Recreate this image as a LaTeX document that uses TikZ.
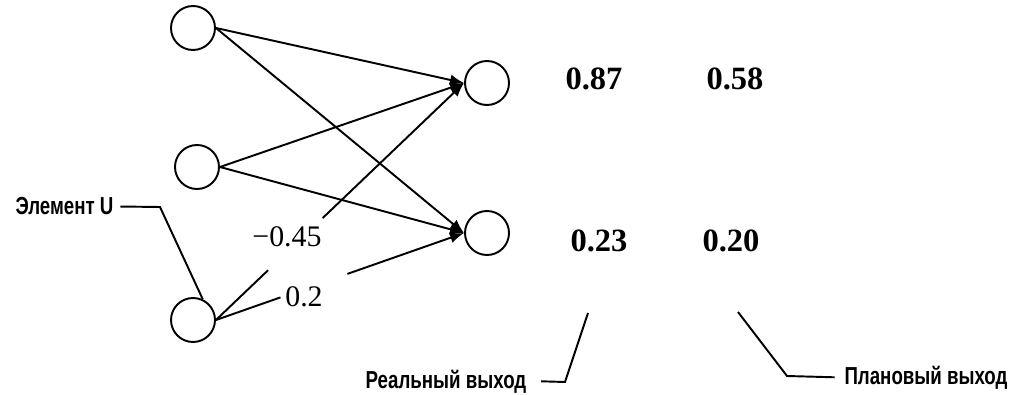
\documentclass[tikz,border=0pt]{standalone}
\usepackage{fontspec}
\setmainfont{Liberation Serif}
\newfontfamily\labfont[FakeStretch=0.76]{Liberation Sans}
\usetikzlibrary{arrows.meta}

\begin{document}
\begin{tikzpicture}[line width=1.1pt,>={Latex[length=2.8mm,width=2.2mm]},
  neuron/.style={circle,draw,minimum size=8.8mm,inner sep=0pt},
  numval/.style={anchor=base,font=\fontsize{18.5}{20}\selectfont\bfseries},
  weight/.style={anchor=base,font=\fontsize{17}{18}\selectfont},
  caption/.style={anchor=base,font=\labfont\bfseries\fontsize{14}{16}\selectfont}]
  \useasboundingbox (0,0) rectangle (20.18,7.88);
  % входной слой
  \node[neuron] (in1) at (3.86,7.32) {};
  \node[neuron] (in2) at (3.94,4.54) {};
  \node[neuron] (in3) at (3.86,1.48) {};
  % выходной слой
  \node[neuron] (out1) at (9.74,6.22) {};
  \node[neuron] (out2) at (9.74,3.22) {};
  % связи
  \draw[->] (in1.east)--(out1.west);
  \draw[->] (in1.east)--(out2.west);
  \draw[->] (in2.east)--(out1.west);
  \draw[->] (in2.east)--(out2.west);
  % связи от элемента U (с разрывом под веса)
  \path (in3.east)--(out1.west) coordinate[pos=0.21] (g1a) coordinate[pos=0.43] (g1b);
  \path (in3.east)--(out2.west) coordinate[pos=0.26] (g2a) coordinate[pos=0.53] (g2b);
  \draw (in3.east)--(g1a);
  \draw[->] (g1b)--(out1.west);
  \draw (in3.east)--(g2a);
  \draw[->] (g2b)--(out2.west);
  \node[weight] (w1) at (5.74,2.94) {−0.45};
  \node[weight] (w2) at (6.08,1.76) {0.2};
  % реальный и плановый выход
  \node[numval] (real1) at (11.88,6.08) {0.87};
  \node[numval] (plan1) at (14.70,6.08) {0.58};
  \node[numval] (real2) at (11.98,2.84) {0.23};
  \node[numval] (plan2) at (14.62,2.84) {0.20};
  % подписи
  \node[caption] (ulab) at (1.29,3.58) {Элемент U};
  \coordinate (ubend) at (3.20,3.74);
  \draw (ulab.east)--(ubend)--(in3.65);
  \node[caption] (reallab) at (8.92,0.12) {Реальный выход};
  \coordinate (rbend) at (11.30,0.24);
  \coordinate (rtop) at (11.76,1.62);
  \draw ([xshift=1.6mm]reallab.east)--(rbend)--(rtop);
  \node[caption] (planlab) at (18.52,0.20) {Плановый выход};
  \coordinate (pbend) at (15.74,0.36);
  \coordinate (ptop) at (14.76,1.64);
  \draw ([xshift=-0.6mm]planlab.west)--(pbend)--(ptop);
\end{tikzpicture}
\end{document}
